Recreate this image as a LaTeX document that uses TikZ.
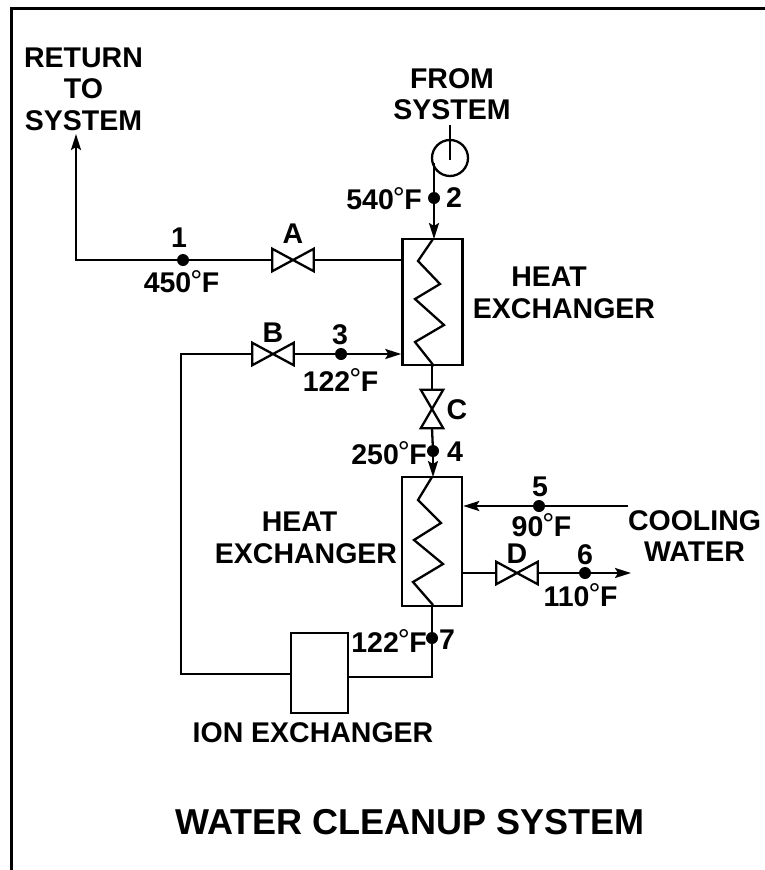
\documentclass[tikz,border=0pt]{standalone}
\usepackage{fontspec}
\setmainfont{Liberation Sans}
\usetikzlibrary{arrows.meta}
\tikzset{
  x=1pt,y=-1pt,
  pipe/.style={line width=2.3pt},
  flow/.style={pipe,-{Stealth[length=16pt,width=10pt,inset=3pt]}},
  box/.style={draw,line width=2.5pt,minimum width=60pt,inner sep=0pt},
  dotp/.style={circle,fill=black,inner sep=0pt,minimum size=12pt},
  lab/.style={font=\bfseries\fontsize{28.5}{31.5}\selectfont,inner sep=0pt,align=center},
  valvebox/.style={inner sep=0pt,minimum width=41pt,minimum height=22pt},
  valvevert/.style={inner sep=0pt,minimum width=22pt,minimum height=38pt},
}
\newcommand{\degF}{\kern-1pt\raisebox{1.5pt}{\normalfont\fontsize{30}{30}\selectfont °}\kern-0.5pt F}
\newcommand{\hvalve}[3]{\node[valvebox] (#1) at (#2,#3) {};
  \draw[line width=2.3pt] (#1.north west) -- (#1.south east) -- (#1.north east) -- (#1.south west) -- cycle;}
\begin{document}
\begin{tikzpicture}
\useasboundingbox (0,0) rectangle (765,870);
\fill[white] (0,0) rectangle (765,870);
\draw[line width=3.2pt] (11.5,870) -- (11.5,8.5) -- (765,8.5);
% boxes
\node[box,minimum height=126pt] (hx1) at (432.5,302) {};
\node[box,minimum height=129pt] (hx2) at (432,541.5) {};
\node[box,minimum width=57pt,minimum height=80pt] (ion) at (319.5,673) {};
% points
\node[dotp] (p1) at (183,260) {};
\node[dotp] (p2) at (434,198) {};
\node[dotp] (p3) at (341,354) {};
\node[dotp] (p4) at (433,451) {};
\node[dotp] (p5) at (539,506) {};
\node[dotp] (p6) at (585,573) {};
\node[dotp] (p7) at (432,638) {};
\node[circle,draw,line width=2.3pt,minimum size=36pt,inner sep=0pt] (circ) at (450,158) {};
% valves
\hvalve{vA}{293}{260}
\hvalve{vB}{273}{354}
\hvalve{vD}{517}{573}
\node[valvevert] (vC) at (432,409) {};
\draw[line width=2.3pt] (vC.north west) -- (vC.north east) -- (vC.south west) -- (vC.south east) -- cycle;
% pipes
\coordinate (ret) at (76,134);
\coordinate (corner1) at (76,260);
\coordinate (fromtop) at (450,125);
\coordinate (fromend) at (450,160);
\coordinate (cirl) at (434,163);
\coordinate (cw) at (628,506);
\coordinate (out6) at (631,573);
\coordinate (bl) at (181,354);
\coordinate (blb) at (181,674);
\coordinate (r7) at (432,677);
\draw[flow] (vA.west) -- (corner1) -- (ret);
\draw[pipe] (vA.east) -- (hx1.west |- vA);
\draw[pipe] (fromtop) -- (fromend);
\draw[pipe] (cirl) -- (p2);
\draw[flow] (p2) -- (434,239);
\draw[pipe] (vB.west) -- (bl) -- (blb) -- (ion.west |- blb);
\draw[flow] (vB.east) -- (hx1.west |- vB);
\draw[pipe] (hx1.south -| vC) -- (vC.north);
\draw[pipe] (vC.south) -- (p4);
\draw[flow] (p4) -- (433,477);
\draw[flow] (cw) -- (hx2.east |- cw);
\draw[pipe] (hx2.east |- vD) -- (vD.west);
\draw[flow] (vD.east) -- (out6);
\draw[pipe] (hx2.south) -- (r7) -- (ion.east |- r7);
% coils
\draw[pipe] (433,239) -- (418,261) -- (440,284) -- (415,299) -- (444,325) -- (415,342) -- (434,366);
\draw[pipe] (432,477) -- (418,500) -- (441,523) -- (414,540) -- (443,564) -- (413,582) -- (433,605);
% labels
\node[lab] (tret) at (83.5,89) {RETURN\\TO\\SYSTEM};
\node[lab] (tfrom) at (452,94) {FROM\\SYSTEM};
\node[lab,anchor=east] (t540) at (422,198.5) {540\degF};
\node[lab] (t2) at (454,198) {2};
\node[lab] (t1) at (179,238) {1};
\node[lab] (tA) at (293,234) {A};
\node[lab] (t450) at (181.5,281.5) {450\degF};
\node[lab] (tHX1) at (564,293) {HEAT\kern30pt\relax\\EXCHANGER};
\node[lab] (tB) at (273,333) {B};
\node[lab] (t3) at (340,335) {3};
\node[lab] (t122a) at (340.5,380) {122\degF};
\node[lab] (tC) at (457,410) {C};
\node[lab,anchor=east] (t250) at (427,453) {250\degF};
\node[lab] (t4) at (455,452) {4};
\node[lab] (t5) at (540,487) {5};
\node[lab] (t90) at (541.5,525) {90\degF};
\node[lab] (tCW) at (694.5,536) {COOLING\\WATER};
\node[lab] (tHX2) at (306,538) {HEAT\kern13pt\relax\\EXCHANGER};
\node[lab] (tD) at (517,554) {D};
\node[lab] (t6) at (585,555) {6};
\node[lab] (t110) at (580.5,595) {110\degF};
\node[lab,anchor=east] (t122b) at (427,641) {122\degF};
\node[lab] (t7) at (447,640) {7};
\node[lab] (tion) at (313,733) {ION EXCHANGER};
\node[font=\bfseries\fontsize{36}{38}\selectfont,inner sep=0pt] (title) at (410,822) {WATER CLEANUP SYSTEM};
\end{tikzpicture}
\end{document}
